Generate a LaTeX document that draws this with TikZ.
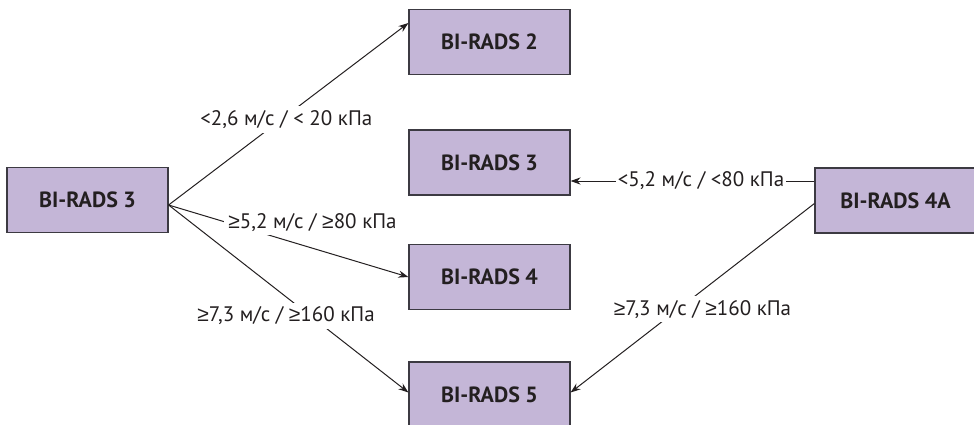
\documentclass[tikz,border=0pt]{standalone}
\usepackage{fontspec}
\setmainfont{PT Sans}
\newfontfamily\mathsignfont{Liberation Sans}
\newcommand{\atleast}{{\mathsignfont ≥}}
\usetikzlibrary{arrows.meta,positioning,calc}
\definecolor{boxfill}{RGB}{196,182,215}
\definecolor{boxline}{RGB}{60,58,66}
\definecolor{ink}{RGB}{35,31,32}

\begin{document}
\begin{tikzpicture}[
    x=0.5pt, y=-0.5pt,
    birads/.style = {rectangle, draw=boxline, line width=0.6pt, fill=boxfill, minimum width=80.5pt, minimum height=32.5pt, font=\bfseries\fontsize{11}{13}\selectfont, text=ink},
    cut/.style = {fill=white, inner sep=2pt, font=\fontsize{10.5}{12}\selectfont, text=ink},
    link/.style = {-{Stealth[length=5pt, width=3.6pt]}, line width=0.5pt, draw=ink}
]
    \useasboundingbox (0,0) rectangle (974,424);
    \clip (0,0) rectangle (974,424);

    % Starting categories
    \node[birads] (l3) at (87.5,200) {BI-RADS 3};
    \node[birads] (a4) at (895.5,200.5) {BI-RADS 4A};

    % Resulting categories
    \node[birads] (b2) at (489.5,42) {BI-RADS 2};
    \node[birads] (b3) at (489.5,162.5) {BI-RADS 3};
    \node[birads] (b4) at (489.5,277) {BI-RADS 4};
    \node[birads] (b5) at (489.5,394.5) {BI-RADS 5};

    % Line ends
    \coordinate (fork) at ([yshift=-2.5pt]l3.east);
    \coordinate (a4low) at ([yshift=-1.5pt]a4.west);
    \coordinate (a4high) at ([yshift=9.75pt]a4.west);

    % Arrows from BI-RADS 3
    \draw[link] (fork) -- ([yshift=9.5pt]b2.west) node[cut, pos=0.47, xshift=2.5pt] {<2,6 м/с / < 20 кПа};
    \draw[link] (fork) -- (b4.west) node[cut, pos=0.6, yshift=13pt] {\atleast5,2 м/с / \atleast80 кПа};
    \draw[link] (fork) -- ([yshift=1pt]b5.west) node[cut, pos=0.59, xshift=-12pt] {\atleast7,3 м/с / \atleast160 кПа};

    % Arrows from BI-RADS 4A
    \draw[link] (a4high) -- (b3.east |- a4high) node[cut, pos=0.465, inner xsep=1pt] {<5,2 м/с / <80 кПа};
    \draw[link] (a4low) -- ([yshift=1pt]b5.east) node[cut, pos=0.56, xshift=12.3pt] {\atleast7,3 м/с / \atleast160 кПа};

\end{tikzpicture}
\end{document}
